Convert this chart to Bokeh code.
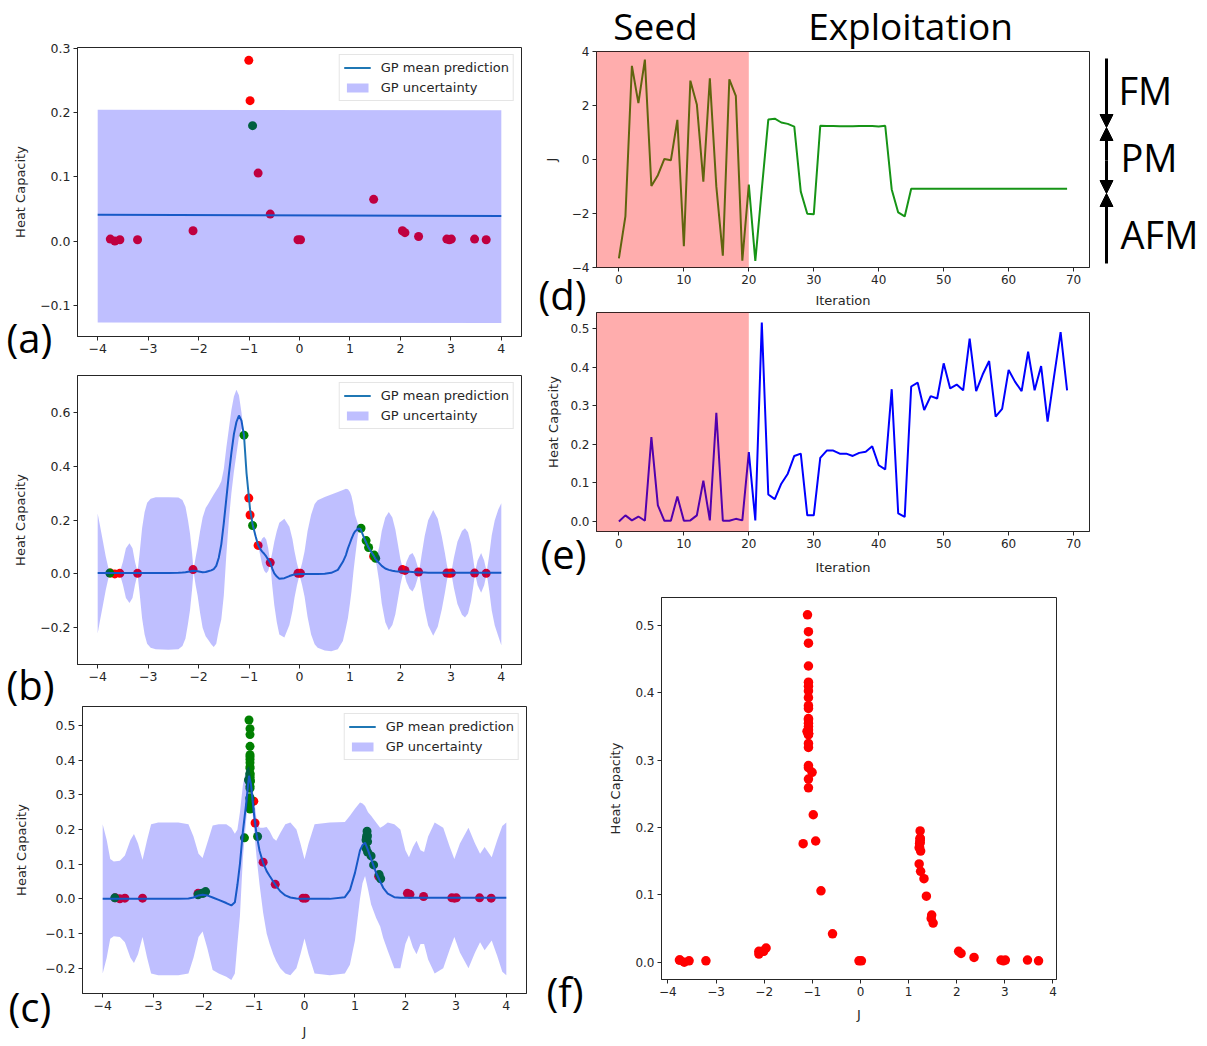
from bokeh.plotting import figure
from bokeh.models import (Range1d, FixedTicker, CustomJSTickFormatter, Legend, LegendItem,
                          Label, Arrow, NormalHead, BoxAnnotation, Spacer)
from bokeh.layouts import row, column
from bokeh.embed import file_html
from bokeh.resources import INLINE

# ---------------- data ----------------
# Active-learning history: J value and heat capacity of each iteration
iterations = list(range(70))
J_iter = [-3.66, -2.11, 3.47, 2.09, 3.70, -0.98, -0.58, 0.02, -0.03, 1.47,
          -3.21, 2.92, 2.04, -0.82, 3.01, -1.005, -3.56, 2.97, 2.36, -3.75,
          -0.93, -3.76, -1.10, 1.48, 1.51, 1.37, 1.32, 1.22, -1.19, -2.01,
          -2.03, 1.25, 1.24, 1.24, 1.23, 1.23, 1.23, 1.24, 1.24, 1.24,
          1.22, 1.25, -1.11, -1.96, -2.11, -1.08, -1.08, -1.08, -1.08, -1.08,
          -1.08, -1.08, -1.08, -1.08, -1.08, -1.08, -1.08, -1.08, -1.08, -1.08,
          -1.08, -1.08, -1.08, -1.08, -1.08, -1.08, -1.08, -1.08, -1.08, -1.08]
Cv_iter = [0.000, 0.016, 0.003, 0.013, 0.002, 0.219, 0.042, 0.002, 0.002, 0.065,
           0.002, 0.003, 0.016, 0.106, 0.003, 0.282, 0.002, 0.002, 0.007, 0.003,
           0.180, 0.003, 0.516, 0.070, 0.058, 0.098, 0.124, 0.170, 0.176, 0.016,
           0.016, 0.165, 0.184, 0.184, 0.176, 0.176, 0.170, 0.178, 0.181, 0.195,
           0.146, 0.135, 0.343, 0.021, 0.012, 0.350, 0.360, 0.289, 0.325, 0.319,
           0.410, 0.345, 0.355, 0.340, 0.474, 0.338, 0.381, 0.416, 0.272, 0.292,
           0.393, 0.362, 0.338, 0.440, 0.340, 0.403, 0.259, 0.377, 0.491, 0.340]
n_seed = 20          # seed iterations (red)
n_a = 21             # points shown in (a)
n_b = 28             # points shown in (b)

# GP after seed (a)
a_x = [-4.0, 4.0]
a_mean = [0.041, 0.039]
a_up = [0.205, 0.204]
a_lo = [-0.127, -0.128]

# GP at intermediate stage (b)
b_x = [-4.00, -3.95, -3.90, -3.84, -3.78, -3.75, -3.66, -3.56, -3.50, -3.44,
       -3.37, -3.31, -3.26, -3.21, -3.17, -3.12, -3.07, -3.02, -2.95, -2.85,
       -2.60, -2.40, -2.32, -2.26, -2.21, -2.17, -2.13, -2.10, -2.06, -2.02,
       -1.97, -1.92, -1.86, -1.81, -1.75, -1.70, -1.65, -1.60, -1.55, -1.50,
       -1.45, -1.40, -1.35, -1.30, -1.25, -1.20, -1.15, -1.10, -1.05, -1.00,
       -0.98, -0.93, -0.87, -0.82, -0.78, -0.74, -0.70, -0.66, -0.62, -0.58,
       -0.54, -0.50, -0.45, -0.40, -0.30, -0.20, -0.14, -0.10, -0.05, 0.00,
       0.05, 0.10, 0.16, 0.23, 0.30, 0.36, 0.50, 0.63, 0.76, 0.86,
       0.92, 0.96, 1.00, 1.03, 1.07, 1.10, 1.16, 1.21, 1.30, 1.37,
       1.47, 1.50, 1.53, 1.58, 1.63, 1.70, 1.77, 1.84, 1.90, 1.95,
       2.00, 2.04, 2.07, 2.12, 2.18, 2.24, 2.29, 2.33, 2.37, 2.42,
       2.48, 2.55, 2.65, 2.74, 2.82, 2.88, 2.92, 2.95, 3.01, 3.06,
       3.13, 3.22, 3.28, 3.34, 3.40, 3.44, 3.48, 3.53, 3.60, 3.66,
       3.71, 3.76, 3.81, 3.87, 3.94, 4.00]
b_mean = [0.003, 0.003, 0.003, 0.003, 0.003, 0.003, 0.003, 0.003, 0.003, 0.003,
          0.003, 0.003, 0.003, 0.003, 0.003, 0.003, 0.003, 0.003, 0.003, 0.003,
          0.003, 0.004, 0.005, 0.006, 0.008, 0.009, 0.011, 0.012, 0.011, 0.010,
          0.008, 0.006, 0.007, 0.010, 0.013, 0.018, 0.030, 0.060, 0.110, 0.190,
          0.280, 0.370, 0.450, 0.520, 0.565, 0.589, 0.570, 0.515, 0.375, 0.280,
          0.240, 0.185, 0.140, 0.107, 0.093, 0.083, 0.075, 0.065, 0.053, 0.042,
          0.020, 0.002, -0.010, -0.018, -0.016, -0.008, -0.004, -0.002, -0.001, 0.000,
          0.000, 0.000, 0.000, 0.000, 0.000, 0.000, 0.001, 0.004, 0.015, 0.045,
          0.070, 0.095, 0.115, 0.130, 0.148, 0.158, 0.168, 0.167, 0.125, 0.097,
          0.068, 0.057, 0.050, 0.040, 0.030, 0.020, 0.015, 0.012, 0.010, 0.009,
          0.009, 0.009, 0.009, 0.008, 0.008, 0.007, 0.006, 0.006, 0.005, 0.005,
          0.005, 0.004, 0.004, 0.004, 0.004, 0.004, 0.004, 0.004, 0.004, 0.004,
          0.004, 0.004, 0.004, 0.004, 0.004, 0.004, 0.004, 0.004, 0.004, 0.004,
          0.004, 0.004, 0.004, 0.004, 0.004, 0.004]
b_up = [0.225, 0.175, 0.125, 0.065, 0.015, 0.007, 0.007, 0.007, 0.045, 0.095,
        0.114, 0.095, 0.045, 0.007, 0.075, 0.170, 0.230, 0.265, 0.280, 0.285,
        0.285, 0.284, 0.275, 0.250, 0.200, 0.150, 0.080, 0.016, 0.060, 0.100,
        0.160, 0.210, 0.245, 0.260, 0.280, 0.295, 0.310, 0.325, 0.345, 0.390,
        0.470, 0.540, 0.610, 0.660, 0.685, 0.665, 0.600, 0.520, 0.380, 0.284,
        0.244, 0.189, 0.150, 0.110, 0.115, 0.132, 0.138, 0.128, 0.095, 0.045,
        0.080, 0.120, 0.160, 0.190, 0.205, 0.175, 0.130, 0.085, 0.040, 0.004,
        0.040, 0.083, 0.160, 0.220, 0.260, 0.274, 0.286, 0.295, 0.305, 0.312,
        0.317, 0.315, 0.305, 0.290, 0.255, 0.220, 0.185, 0.170, 0.128, 0.100,
        0.071, 0.060, 0.065, 0.100, 0.160, 0.210, 0.230, 0.210, 0.165, 0.110,
        0.055, 0.025, 0.012, 0.045, 0.070, 0.078, 0.060, 0.035, 0.008, 0.070,
        0.140, 0.200, 0.238, 0.205, 0.140, 0.080, 0.035, 0.007, 0.007, 0.060,
        0.120, 0.160, 0.170, 0.155, 0.110, 0.060, 0.007, 0.050, 0.078, 0.050,
        0.007, 0.070, 0.144, 0.200, 0.240, 0.263]
b_lo = [-0.222, -0.170, -0.120, -0.060, -0.010, -0.001, -0.001, -0.001, -0.040, -0.090,
        -0.108, -0.090, -0.040, -0.001, -0.070, -0.165, -0.225, -0.260, -0.275, -0.280,
        -0.282, -0.280, -0.268, -0.240, -0.185, -0.135, -0.060, 0.008, -0.040, -0.080,
        -0.145, -0.200, -0.232, -0.245, -0.262, -0.272, -0.260, -0.210, -0.170, -0.080,
        0.070, 0.200, 0.300, 0.380, 0.445, 0.510, 0.540, 0.510, 0.370, 0.276,
        0.236, 0.181, 0.130, 0.104, 0.071, 0.034, 0.012, 0.002, 0.011, 0.039,
        -0.045, -0.116, -0.180, -0.225, -0.237, -0.190, -0.138, -0.090, -0.042, -0.004,
        -0.040, -0.084, -0.160, -0.225, -0.262, -0.275, -0.285, -0.288, -0.280, -0.250,
        -0.200, -0.164, -0.110, -0.065, 0.010, 0.058, 0.150, 0.164, 0.122, 0.094,
        0.065, 0.054, 0.030, -0.030, -0.110, -0.180, -0.210, -0.190, -0.150, -0.095,
        -0.040, -0.008, 0.006, -0.030, -0.055, -0.065, -0.048, -0.024, 0.002, -0.060,
        -0.130, -0.192, -0.230, -0.197, -0.132, -0.072, -0.027, 0.001, 0.001, -0.052,
        -0.112, -0.152, -0.162, -0.147, -0.102, -0.052, 0.001, -0.042, -0.070, -0.042,
        0.001, -0.062, -0.136, -0.192, -0.232, -0.265]

# GP at final stage (c)
c_x = [-4.00, -3.92, -3.85, -3.78, -3.66, -3.56, -3.45, -3.38, -3.30, -3.21,
       -3.12, -3.04, -2.90, -2.50, -2.30, -2.20, -2.10, -2.02, -1.93, -1.82,
       -1.70, -1.55, -1.45, -1.38, -1.33, -1.28, -1.22, -1.16, -1.10, -1.06,
       -1.00, -0.95, -0.89, -0.82, -0.75, -0.69, -0.62, -0.56, -0.48, -0.38,
       -0.28, -0.16, -0.08, 0.00, 0.08, 0.20, 0.50, 0.80, 0.90, 1.00,
       1.10, 1.15, 1.20, 1.26, 1.32, 1.42, 1.50, 1.56, 1.65, 1.78,
       1.90, 2.00, 2.07, 2.15, 2.22, 2.30, 2.37, 2.45, 2.58, 2.75,
       2.88, 2.97, 3.08, 3.25, 3.38, 3.48, 3.57, 3.71, 3.82, 3.92,
       4.00]
c_mean = [0.000, 0.000, 0.000, 0.000, 0.000, 0.000, 0.000, 0.000, 0.000, 0.000,
          0.000, 0.000, 0.000, 0.000, 0.001, 0.004, 0.010, 0.012, 0.010, 0.004,
          -0.003, -0.012, -0.019, -0.010, 0.040, 0.100, 0.196, 0.270, 0.355, 0.330,
          0.244, 0.186, 0.138, 0.104, 0.080, 0.066, 0.050, 0.037, 0.022, 0.010,
          0.004, 0.001, 0.000, 0.000, 0.000, 0.000, 0.000, 0.005, 0.025, 0.075,
          0.140, 0.155, 0.162, 0.140, 0.115, 0.075, 0.050, 0.032, 0.015, 0.005,
          0.003, 0.003, 0.003, 0.003, 0.003, 0.003, 0.003, 0.003, 0.003, 0.003,
          0.003, 0.003, 0.003, 0.003, 0.003, 0.003, 0.003, 0.003, 0.003, 0.003,
          0.003]
c_up = [0.215, 0.170, 0.115, 0.108, 0.110, 0.125, 0.170, 0.187, 0.160, 0.113,
        0.170, 0.215, 0.220, 0.220, 0.215, 0.180, 0.130, 0.118, 0.160, 0.212,
        0.215, 0.215, 0.205, 0.188, 0.200, 0.250, 0.330, 0.370, 0.385, 0.350,
        0.290, 0.230, 0.205, 0.205, 0.207, 0.195, 0.175, 0.168, 0.190, 0.215,
        0.220, 0.200, 0.160, 0.114, 0.160, 0.215, 0.220, 0.222, 0.240, 0.260,
        0.278, 0.275, 0.268, 0.250, 0.240, 0.220, 0.205, 0.210, 0.220, 0.215,
        0.200, 0.140, 0.120, 0.150, 0.168, 0.140, 0.135, 0.180, 0.220, 0.205,
        0.150, 0.115, 0.160, 0.205, 0.160, 0.130, 0.150, 0.120, 0.170, 0.210,
        0.220]
c_lo = [-0.215, -0.170, -0.115, -0.108, -0.110, -0.125, -0.170, -0.185, -0.160, -0.110,
        -0.170, -0.215, -0.220, -0.220, -0.215, -0.170, -0.110, -0.094, -0.140, -0.205,
        -0.215, -0.225, -0.234, -0.215, -0.130, -0.050, 0.120, 0.220, 0.320, 0.300,
        0.200, 0.120, 0.040, -0.040, -0.100, -0.130, -0.160, -0.180, -0.200, -0.215,
        -0.220, -0.200, -0.160, -0.114, -0.160, -0.215, -0.220, -0.215, -0.190, -0.120,
        0.000, 0.045, 0.066, 0.027, -0.016, -0.055, -0.080, -0.113, -0.150, -0.200,
        -0.200, -0.130, -0.105, -0.140, -0.160, -0.130, -0.130, -0.175, -0.215, -0.200,
        -0.145, -0.110, -0.155, -0.200, -0.155, -0.125, -0.148, -0.120, -0.165, -0.210,
        -0.220]

# ticks
J_ticks = [-4, -3, -2, -1, 0, 1, 2, 3, 4]
J_labels = ["\u22124", "\u22123", "\u22122", "\u22121", "0", "1", "2", "3", "4"]
a_yticks = [-0.1, 0.0, 0.1, 0.2, 0.3]
a_ylabels = ["\u22120.1", "0.0", "0.1", "0.2", "0.3"]
b_yticks = [-0.2, 0.0, 0.2, 0.4, 0.6]
b_ylabels = ["\u22120.2", "0.0", "0.2", "0.4", "0.6"]
c_yticks = [-0.2, -0.1, 0.0, 0.1, 0.2, 0.3, 0.4, 0.5]
c_ylabels = ["\u22120.2", "\u22120.1", "0.0", "0.1", "0.2", "0.3", "0.4", "0.5"]
it_ticks = [0, 10, 20, 30, 40, 50, 60, 70]
it_labels = ["0", "10", "20", "30", "40", "50", "60", "70"]
d_yticks = [-4, -2, 0, 2, 4]
d_ylabels = ["\u22124", "\u22122", "0", "2", "4"]
cv_ticks = [0.0, 0.1, 0.2, 0.3, 0.4, 0.5]
cv_labels = ["0.0", "0.1", "0.2", "0.3", "0.4", "0.5"]

# panel letters and annotation words
panel_tags = ["(a)", "(b)", "(c)", "(d)", "(e)", "(f)"]
phase_words = ["Seed", "Exploitation"]
phase_names = ["FM", "PM", "AFM"]

# ---------------- styling helpers ----------------
TICK_FONT = "DejaVu Sans"
BIG_FONT = "Open Sans"
INK = "#262626"


def fmt(tvals, tlabels):
    return CustomJSTickFormatter(args=dict(tv=tvals, tl=tlabels), code="""
        let best = -1, bd = 1e9;
        for (let i = 0; i < tv.length; i++) {
            const d = Math.abs(tv[i] - tick);
            if (d < bd) { bd = d; best = i; }
        }
        return bd < 1e-6 ? tl[best] : '';
    """)


def make_fig(fw, fh, bl, br, bt, bb, xr, yr, xt, xl, yt, yl, xlabel=None, ylabel=None,
             xstand=5, ystand=8, tick_size="12.5px"):
    p = figure(frame_width=fw, frame_height=fh,
               min_border_left=bl, min_border_right=br, min_border_top=bt, min_border_bottom=bb,
               x_range=Range1d(*xr), y_range=Range1d(*yr),
               output_backend="svg", toolbar_location=None)
    p.outline_line_color = INK
    p.outline_line_width = 1
    p.xgrid.visible = False
    p.ygrid.visible = False
    p.xaxis.ticker = FixedTicker(ticks=xt)
    p.xaxis.formatter = fmt(xt, xl)
    p.yaxis.ticker = FixedTicker(ticks=yt)
    p.yaxis.formatter = fmt(yt, yl)
    p.axis.major_tick_in = 0
    p.axis.major_tick_out = 4
    p.axis.minor_tick_line_color = None
    p.axis.axis_line_color = INK
    p.axis.major_tick_line_color = INK
    p.axis.major_label_text_font = TICK_FONT
    p.axis.major_label_text_font_size = tick_size
    p.axis.major_label_text_color = INK
    p.axis.major_label_standoff = 3
    p.axis.axis_label_text_font = TICK_FONT
    p.axis.axis_label_text_font_size = "13px"
    p.axis.axis_label_text_font_style = "normal"
    p.axis.axis_label_text_color = INK
    if xlabel:
        p.xaxis.axis_label = xlabel
        p.xaxis.axis_label_standoff = xstand
    if ylabel:
        p.yaxis.axis_label = ylabel
        p.yaxis.axis_label_standoff = ystand
    return p


def gp_panel(p, n_pts, gx, gmean, gup, glo):
    p.scatter(J_iter[:min(n_pts, n_seed)], Cv_iter[:min(n_pts, n_seed)], size=9,
              fill_color="red", line_alpha=0)
    if n_pts > n_seed:
        p.scatter(J_iter[n_seed:n_pts], Cv_iter[n_seed:n_pts], size=9,
                  fill_color="green", line_alpha=0)
    ln = p.line(gx, gmean, line_color="#1f77b4", line_width=2)
    ar = p.varea(x=gx, y1=glo, y2=gup, fill_color="blue", fill_alpha=0.25)
    legend = Legend(items=[LegendItem(label="GP mean prediction", renderers=[ln]),
                           LegendItem(label="GP uncertainty", renderers=[ar])],
                    location="top_right", margin=7, padding=4, spacing=3,
                    label_height=17, glyph_height=11, glyph_width=27, label_standoff=10,
                    label_text_font=TICK_FONT, label_text_font_size="13px",
                    label_text_color=INK,
                    border_line_color="#cccccc", border_line_width=1,
                    background_fill_alpha=0.8)
    p.add_layout(legend)


# ---------------- (a) ----------------
fa = make_fig(444, 289, 77, 14, 47, 24, (-4.4, 4.4), (-0.149, 0.302),
              J_ticks, J_labels, a_yticks, a_ylabels, ylabel="Heat Capacity", ystand=9)
gp_panel(fa, n_a, a_x, a_mean, a_up, a_lo)

# ---------------- (b) ----------------
fb = make_fig(444, 289, 77, 14, 15, 36, (-4.4, 4.4), (-0.337, 0.738),
              J_ticks, J_labels, b_yticks, b_ylabels, ylabel="Heat Capacity", ystand=9)
gp_panel(fb, n_b, b_x, b_mean, b_up, b_lo)

# ---------------- (c) ----------------
fc = make_fig(444, 287, 77, 14, 6, 53, (-4.4, 4.4), (-0.273, 0.555),
              J_ticks, J_labels, c_yticks, c_ylabels, xlabel="J", ylabel="Heat Capacity",
              xstand=11, ystand=13)
gp_panel(fc, len(J_iter), c_x, c_mean, c_up, c_lo)

# ---------------- (d) ----------------
fd = make_fig(493, 216, 54, 120, 51, 44, (-3.45, 72.45), (-4, 4),
              it_ticks, it_labels, d_yticks, d_ylabels, xlabel="Iteration", ylabel="J",
              xstand=6, ystand=10, tick_size="12px")
fd.line(iterations, J_iter, line_color="#169416", line_width=2)
fd.add_layout(BoxAnnotation(left=-3.45, right=n_seed, bottom=-4, top=4,
                            fill_color="red", fill_alpha=0.32, line_color=None))

# ---------------- (e) ----------------
fe = make_fig(493, 219, 54, 120, 1, 59, (-3.45, 72.45), (-0.0258, 0.5418),
              it_ticks, it_labels, cv_ticks, cv_labels, xlabel="Iteration",
              ylabel="Heat Capacity", xstand=9, ystand=6, tick_size="12px")
fe.line(iterations, Cv_iter, line_color="blue", line_width=2)
fe.add_layout(BoxAnnotation(left=-3.45, right=n_seed, bottom=-0.0258, top=0.5418,
                            fill_color="red", fill_alpha=0.32, line_color=None))

# ---------------- (f) ----------------
ff = make_fig(395, 382, 54, 120, 7, 67, (-4.133, 4.073), (-0.0258, 0.5418),
              J_ticks, J_labels, cv_ticks, cv_labels, xlabel="J", ylabel="Heat Capacity",
              xstand=8, ystand=9, tick_size="12px")
ff.scatter(J_iter, Cv_iter, size=9.5, fill_color="red", line_alpha=0)

# ---------------- text overlay (page pixel coordinates) ----------------
W, H = 1207, 1046
ov = figure(frame_width=W, frame_height=H, min_border=0,
            x_range=Range1d(0, W), y_range=Range1d(H, 0),
            x_axis_location=None, y_axis_location=None,
            output_backend="svg", toolbar_location=None,
            background_fill_color=None, border_fill_color=None, outline_line_color=None,
            styles={"position": "absolute", "left": "0px", "top": "0px",
                    "pointer-events": "none"})
ov.grid.visible = False


def ov_text(text, x, y, size=40, align="left"):
    ov.add_layout(Label(x=x, y=y, text=text, text_font=BIG_FONT,
                        text_font_size=f"{size}px", text_align=align,
                        text_baseline="middle", text_color="black"))


tag_pos = [(6, 337), (6, 684), (8, 1006), (538, 294), (540, 553), (546, 991)]
for t, (x, y) in zip(panel_tags, tag_pos):
    ov_text(t, x, y)
ov_text(phase_words[0], 655, 25, 37, "center")
ov_text(phase_words[1], 910, 25, 37, "center")
for t, (x, y) in zip(phase_names, [(1118, 89), (1120, 156), (1120, 233)]):
    ov_text(t, x, y, 38)
for y0, y1 in [(58, 127), (160, 127), (160, 193), (263, 193)]:
    ov.add_layout(Arrow(x_start=1106, y_start=y0, x_end=1106, y_end=y1,
                        line_width=3, line_color="black",
                        end=NormalHead(size=13, fill_color="black", line_color="black",
                                       line_width=1)))

left_col = column(fa, fb, row(Spacer(width=5), fc))
right_col = column(fd, fe, row(Spacer(width=65), ff))
layout = row(left_col, right_col, ov)
open("out.html", "w").write(file_html(layout, INLINE))
